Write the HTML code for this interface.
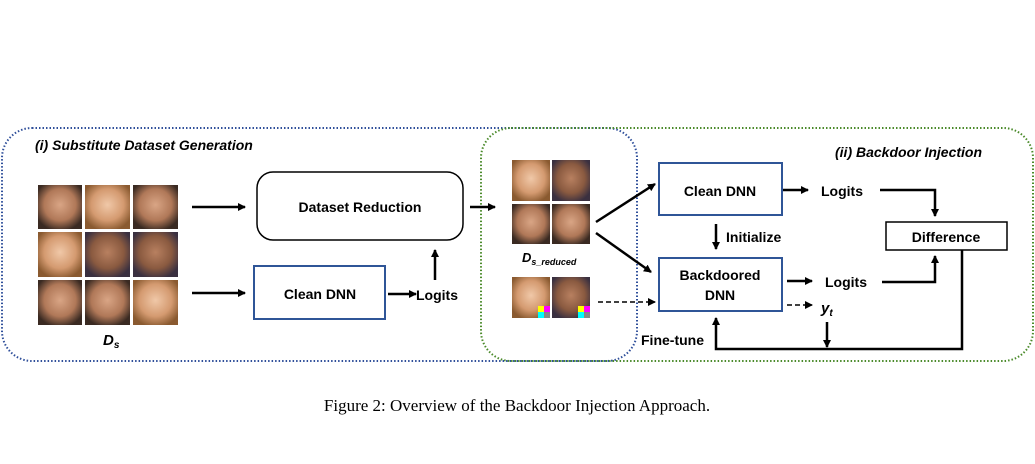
<!DOCTYPE html>
<html><head><meta charset="utf-8"><style>
body{margin:0;background:#fff;width:1035px;height:459px;overflow:hidden;font-family:"Liberation Sans",sans-serif}
</style></head><body>
<svg width="1035" height="459" xmlns="http://www.w3.org/2000/svg" font-family="Liberation Sans, sans-serif">
<defs>
<marker id="a" markerWidth="8" markerHeight="8" refX="7" refY="4" orient="auto" markerUnits="userSpaceOnUse"><path d="M0,0 L8,4 L0,8 z" fill="#000"/></marker>
<radialGradient id="f1" cx="50%" cy="45%" r="60%"><stop offset="0" stop-color="#d9a585"/><stop offset=".6" stop-color="#b07858"/><stop offset="1" stop-color="#3a2a22"/></radialGradient>
<radialGradient id="f2" cx="50%" cy="45%" r="60%"><stop offset="0" stop-color="#f0c8a8"/><stop offset=".6" stop-color="#d49a70"/><stop offset="1" stop-color="#8a5a30"/></radialGradient>
<radialGradient id="f3" cx="50%" cy="45%" r="60%"><stop offset="0" stop-color="#b88060"/><stop offset=".6" stop-color="#8a5a40"/><stop offset="1" stop-color="#3a3040"/></radialGradient>
</defs>
<rect x="2" y="128" width="635" height="233" rx="30" fill="none" stroke="#2f4f9a" stroke-width="2" stroke-dasharray="1.5,2"/>
<rect x="481" y="128" width="552" height="233" rx="30" fill="none" stroke="#4a8a2a" stroke-width="2" stroke-dasharray="1.5,2"/>
<text x="35" y="150" font-size="14" font-weight="bold" font-style="italic">(i) Substitute Dataset Generation</text>
<text x="835" y="157" font-size="14" font-weight="bold" font-style="italic">(ii) Backdoor Injection</text>
<g>
<rect x="38" y="185" width="44" height="44" fill="url(#f1)"/><rect x="85" y="185" width="45" height="44" fill="url(#f2)"/><rect x="133" y="185" width="45" height="44" fill="url(#f1)"/>
<rect x="38" y="232" width="44" height="45" fill="url(#f2)"/><rect x="85" y="232" width="45" height="45" fill="url(#f3)"/><rect x="133" y="232" width="45" height="45" fill="url(#f3)"/>
<rect x="38" y="280" width="44" height="45" fill="url(#f1)"/><rect x="85" y="280" width="45" height="45" fill="url(#f1)"/><rect x="133" y="280" width="45" height="45" fill="url(#f2)"/>
</g>
<text x="103" y="345" font-size="15" font-weight="bold" font-style="italic">D<tspan font-size="10" dy="3">s</tspan></text>
<line x1="192" y1="207" x2="245" y2="207" stroke="#000" stroke-width="2.5" marker-end="url(#a)"/>
<line x1="192" y1="293" x2="245" y2="293" stroke="#000" stroke-width="2.5" marker-end="url(#a)"/>
<rect x="257" y="172" width="206" height="68" rx="16" fill="#fff" stroke="#000" stroke-width="1.5"/>
<text x="360" y="212" font-size="14" font-weight="bold" text-anchor="middle">Dataset Reduction</text>
<rect x="254" y="266" width="131" height="53" fill="#fff" stroke="#2f5597" stroke-width="2"/>
<text x="320" y="299" font-size="14" font-weight="bold" text-anchor="middle">Clean DNN</text>
<line x1="388" y1="294" x2="416" y2="294" stroke="#000" stroke-width="2.5" marker-end="url(#a)"/>
<text x="416" y="300" font-size="14" font-weight="bold">Logits</text>
<line x1="435" y1="280" x2="435" y2="250" stroke="#000" stroke-width="2.5" marker-end="url(#a)"/>
<line x1="470" y1="207" x2="495" y2="207" stroke="#000" stroke-width="2.5" marker-end="url(#a)"/>
<rect x="512" y="160" width="38" height="41" fill="url(#f2)"/><rect x="552" y="160" width="38" height="41" fill="url(#f3)"/>
<rect x="512" y="204" width="38" height="40" fill="url(#f1)"/><rect x="552" y="204" width="38" height="40" fill="url(#f1)"/>
<text x="522" y="262" font-size="13" font-weight="bold" font-style="italic">D<tspan font-size="9" dy="3">s_reduced</tspan></text>
<rect x="512" y="277" width="38" height="41" fill="url(#f2)"/><rect x="552" y="277" width="38" height="41" fill="url(#f3)"/>
<rect x="538" y="306" width="6" height="6" fill="#ff0"/><rect x="544" y="306" width="6" height="6" fill="#f0f"/><rect x="538" y="312" width="6" height="6" fill="#0ff"/><rect x="544" y="312" width="6" height="6" fill="#888"/>
<rect x="578" y="306" width="6" height="6" fill="#ff0"/><rect x="584" y="306" width="6" height="6" fill="#f0f"/><rect x="578" y="312" width="6" height="6" fill="#0ff"/><rect x="584" y="312" width="6" height="6" fill="#888"/>
<line x1="596" y1="222" x2="655" y2="184" stroke="#000" stroke-width="2.5" marker-end="url(#a)"/>
<line x1="596" y1="233" x2="651" y2="272" stroke="#000" stroke-width="2.5" marker-end="url(#a)"/>
<line x1="598" y1="302" x2="655" y2="302" stroke="#000" stroke-width="1.5" stroke-dasharray="5,3" marker-end="url(#a)"/>
<rect x="659" y="163" width="123" height="52" fill="#fff" stroke="#2f5597" stroke-width="2"/>
<text x="720" y="196" font-size="14" font-weight="bold" text-anchor="middle">Clean DNN</text>
<rect x="659" y="258" width="123" height="53" fill="#fff" stroke="#2f5597" stroke-width="2"/>
<text x="720" y="280" font-size="14" font-weight="bold" text-anchor="middle">Backdoored</text>
<text x="720" y="300" font-size="14" font-weight="bold" text-anchor="middle">DNN</text>
<line x1="716" y1="224" x2="716" y2="249" stroke="#000" stroke-width="2.5" marker-end="url(#a)"/>
<text x="726" y="242" font-size="14" font-weight="bold">Initialize</text>
<line x1="783" y1="190" x2="808" y2="190" stroke="#000" stroke-width="2.5" marker-end="url(#a)"/>
<text x="821" y="196" font-size="14" font-weight="bold">Logits</text>
<line x1="787" y1="281" x2="812" y2="281" stroke="#000" stroke-width="2.5" marker-end="url(#a)"/>
<text x="825" y="287" font-size="14" font-weight="bold">Logits</text>
<line x1="787" y1="305" x2="812" y2="305" stroke="#000" stroke-width="1.5" stroke-dasharray="5,3" marker-end="url(#a)"/>
<text x="821" y="313" font-size="15" font-weight="bold" font-style="italic">y<tspan font-size="10" dy="3">t</tspan></text>
<rect x="886" y="222" width="121" height="28" fill="#fff" stroke="#000" stroke-width="1.5"/>
<text x="946" y="242" font-size="14" font-weight="bold" text-anchor="middle">Difference</text>
<polyline points="880,190 935,190 935,216" fill="none" stroke="#000" stroke-width="2.5" marker-end="url(#a)"/>
<polyline points="882,282 935,282 935,256" fill="none" stroke="#000" stroke-width="2.5" marker-end="url(#a)"/>
<polyline points="962,250 962,349 716,349 716,318" fill="none" stroke="#000" stroke-width="2.5" marker-end="url(#a)"/>
<line x1="827" y1="322" x2="827" y2="347" stroke="#000" stroke-width="2.5" marker-end="url(#a)"/>
<text x="641" y="345" font-size="14" font-weight="bold">Fine-tune</text>
<text x="517" y="411" font-size="17" font-family="Liberation Serif, serif" text-anchor="middle">Figure 2: Overview of the Backdoor Injection Approach.</text>
</svg>
</body></html>
